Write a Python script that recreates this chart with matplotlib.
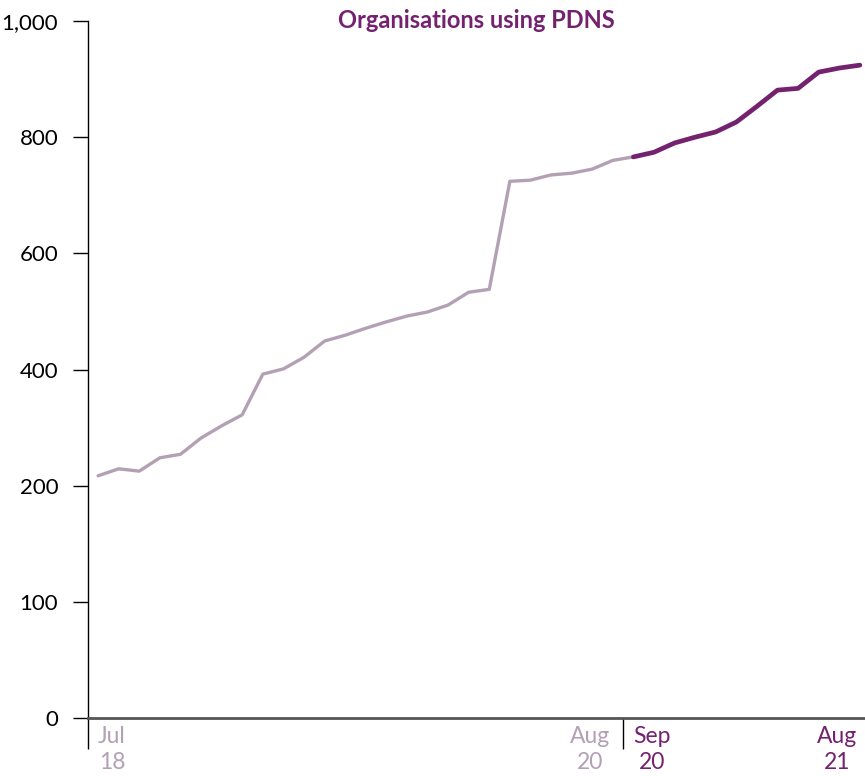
import numpy as np
import matplotlib
matplotlib.use("Agg")
import matplotlib.pyplot as plt

# --- Data (monthly, Jul 2018 .. Aug 2021) ---
months = ["Jul 18", "Aug 18", "Sep 18", "Oct 18", "Nov 18", "Dec 18",
          "Jan 19", "Feb 19", "Mar 19", "Apr 19", "May 19", "Jun 19",
          "Jul 19", "Aug 19", "Sep 19", "Oct 19", "Nov 19", "Dec 19",
          "Jan 20", "Feb 20", "Mar 20", "Apr 20", "May 20", "Jun 20",
          "Jul 20", "Aug 20", "Sep 20", "Oct 20", "Nov 20", "Dec 20",
          "Jan 21", "Feb 21", "Mar 21", "Apr 21", "May 21", "Jun 21",
          "Jul 21", "Aug 21"]
orgs = [217, 229, 225, 248, 254, 282, 303, 322, 392, 401, 421, 449,
        459, 471, 482, 492, 499, 511, 533, 538, 724, 726, 735, 738,
        745, 760, 766, 774, 790, 800, 809, 826, 853, 881, 884, 912,
        919, 924]
split = 26  # Sep 20: start of the current period

tick_vals = [0, 100, 200, 400, 600, 800, 1000]
tick_text = ["0", "100", "200", "400", "600", "800", "1,000"]
xlabels = [(0, "Jul\n18", "left", "old"), (25, "Aug\n20", "right", "old"),
           (26, "Sep\n20", "left", "new"), (37, "Aug\n21", "right", "new")]

GREY = "#b3a0b4"
PURPLE = "#74226f"
FONT = "Lato"

# piecewise-linear y scale: ticks evenly spaced
tv = np.array(tick_vals, dtype=float)
ti = np.arange(len(tick_vals), dtype=float)
fwd = lambda v: np.interp(v, tv, ti)
inv = lambda i: np.interp(i, ti, tv)

fig = plt.figure(figsize=(8.65, 7.76), dpi=100)
ax = fig.add_axes([88 / 865, 58 / 776, 777 / 865, 697 / 776])
ax.set_yscale("function", functions=(fwd, inv))

x = np.arange(len(orgs))
ax.plot(x[:split + 1], orgs[:split + 1], color=GREY, lw=2.4,
        solid_capstyle="round", solid_joinstyle="round")
ax.plot(x[split:], orgs[split:], color=PURPLE, lw=3.4,
        solid_capstyle="round", solid_joinstyle="round")

ax.set_xlim(-0.49, 37.25)
ax.set_ylim(0, 1000)

ax.set_yticks(tick_vals)
ax.set_yticklabels(tick_text, fontfamily=FONT, fontsize=16)
ax.tick_params(axis="y", length=10.5, width=1, pad=11, color="black")

ax.set_xticks([-0.49, split - 0.5])
ax.set_xticklabels([])
ax.tick_params(axis="x", length=22, width=1, color="black")

for s in ["top", "right"]:
    ax.spines[s].set_visible(False)
ax.spines["left"].set_linewidth(1)
ax.spines["bottom"].set_linewidth(2)
ax.spines["bottom"].set_color("#555555")

for xi, txt, ha, period in xlabels:
    off = 0 if ha == "left" else -2
    ax.annotate(txt, xy=(xi, 0), xycoords=("data", "axes fraction"),
                xytext=(off, -5.5), textcoords="offset points",
                ha=ha, va="top", multialignment="center",
                fontfamily=FONT, fontsize=16.5, linespacing=1.3,
                color=GREY if period == "old" else PURPLE)

ax.text(0.5, 1.0, "Organisations using PDNS", transform=ax.transAxes,
        ha="center", va="center", fontfamily=FONT, fontweight="bold",
        fontsize=17, color=PURPLE)

fig.savefig("out.png", dpi=100)
